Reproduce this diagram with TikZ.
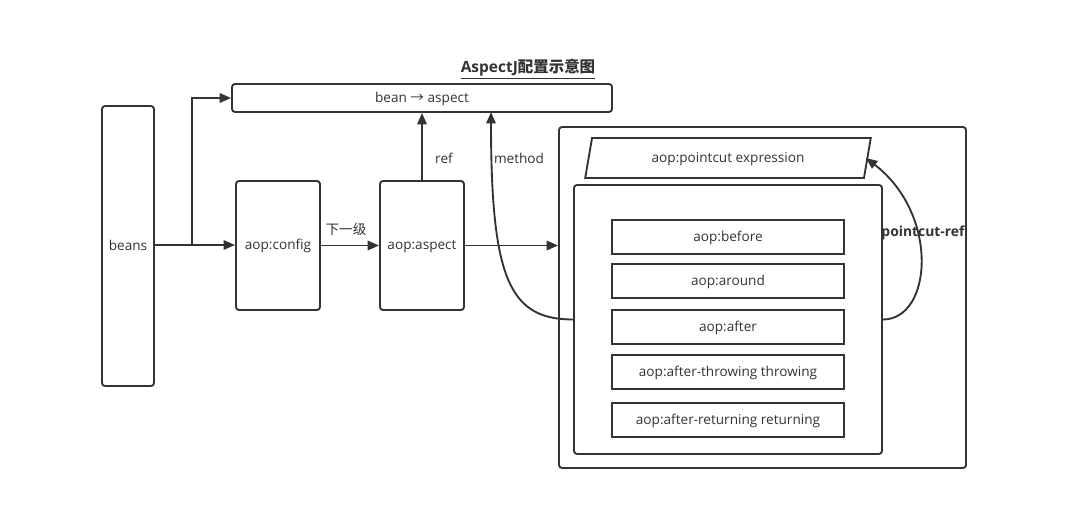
\documentclass[tikz,border=0pt]{standalone}
\usepackage{fontspec}
\setmainfont{Open Sans}
\newfontfamily\cjk{Noto Sans CJK SC}
\usetikzlibrary{arrows.meta,shapes.geometric}
\definecolor{lc}{HTML}{333333}
\begin{document}
\begin{tikzpicture}[x=0.75pt,y=-0.75pt,
  every node/.style={text=lc, font=\fontsize{10.2}{12}\selectfont},
  rbox/.style={draw=lc, line width=1.4pt, rounded corners=2.25pt, inner sep=0pt, text height=7.8pt, text depth=1.6pt},
  sbox/.style={draw=lc, line width=1.4pt, inner sep=0pt, minimum width=174pt, minimum height=25.5pt, text height=7.8pt, text depth=1.6pt},
  conn/.style={draw=lc, line width=1.4pt, -{Triangle[length=8.5pt,width=7pt]}},
  lbl/.style={inner sep=1pt}
]
\useasboundingbox[fill=white] (0,0) rectangle (1066,530);

\node[lbl, font=\fontsize{11.6}{13}\selectfont\bfseries] (title) at (528,69)
  {\underline{AspectJ{\cjk\bfseries 配置示意图}}};

\node[rbox, minimum width=39pt, minimum height=210pt] (beans) at (128,246) {beans};
\node[rbox, minimum width=285pt, minimum height=21pt] (bean) at (422,98) {bean {\cjk →} aspect};
\node[rbox, minimum width=63pt, minimum height=96.75pt] (config) at (278,245.5) {aop:config};
\node[rbox, minimum width=63pt, minimum height=96.75pt] (aspect) at (422,245.5) {aop:aspect};

\node[rbox, minimum width=305.25pt, minimum height=255.75pt] (outer) at (762.5,297.5) {};
\node[draw=lc, line width=1.4pt, trapezium, trapezium stretches=true,
      trapezium left angle=73, trapezium right angle=107,
      minimum width=214.5pt, minimum height=30pt, inner sep=0pt, text height=7.8pt, text depth=1.6pt] (pc) at (728,158) {aop:pointcut expression};
\node[rbox, minimum width=231pt, minimum height=201.75pt] (inner) at (728,319.5) {};

\node[sbox] (before) at (728,237) {aop:before};
\node[sbox] (around) at (728,281) {aop:around};
\node[sbox] (after) at (728,327) {aop:after};
\node[sbox] (throwing) at (728,372) {aop:after-throwing throwing};
\node[sbox] (returning) at (728,420) {aop:after-returning returning};

\coordinate (br) at (192,245);
\draw[draw=lc, line width=1.4pt] (beans.east |- br) -- (br);
\draw[conn] (br) -- (config.west |- br);
\draw[conn] (br) |- (bean.west);
\draw[conn] (config.east) -- (aspect.west);
\node[lbl, font=\cjk\fontsize{10.2}{12}\selectfont] (xyj) at (346,229) {下一级};
\draw[conn] (aspect.north) -- (aspect.north |- bean.south);
\node[lbl] (ref) at (444,158) {ref};
\draw[conn] (aspect.east) -- (outer.west |- aspect.east);

\coordinate (mtip) at (491,112);
\draw[conn] (inner.west) .. controls (510,319.5) and (491,280) .. (mtip);
\node[lbl] (method) at (519,158) {method};

\draw[conn] (inner.east) .. controls (932,319.5) and (940,215) .. (866,158);
\node[lbl, font=\fontsize{10.4}{12}\selectfont\bfseries] (pref) at (923,233) {pointcut-ref};
\end{tikzpicture}
\end{document}
